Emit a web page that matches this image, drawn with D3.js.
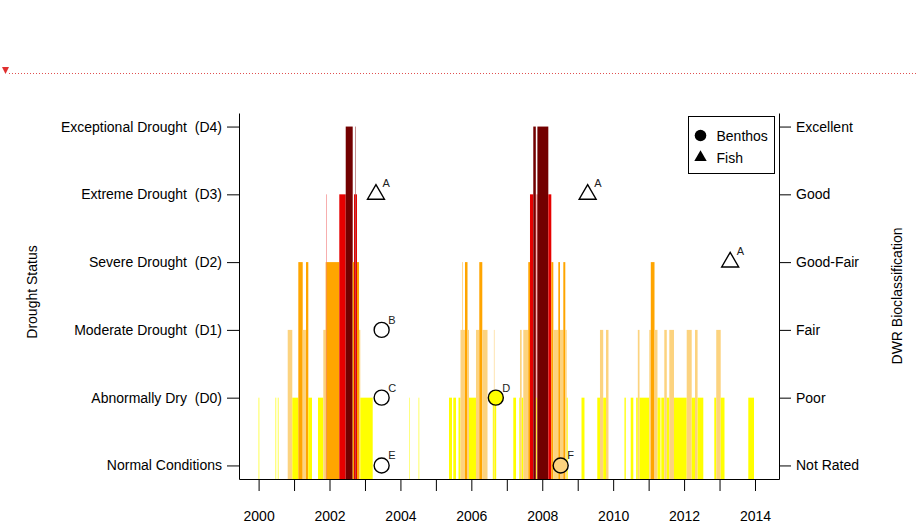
<!DOCTYPE html>
<html>
<head>
<meta charset="utf-8">
<script src="https://cdn.jsdelivr.net/npm/d3@7"></script>
<style>
  html, body { margin: 0; padding: 0; background: #fff; }
  svg { display: block; font-family: "Liberation Sans", Arial, sans-serif; }
</style>
</head>
<body>
<script>
// ---------------- DATA ----------------
const levelNames = ["Normal", "D0", "D1", "D2", "D3", "D4"];
const droughtLabels = ["Normal Conditions", "Abnormally Dry  (D0)", "Moderate Drought  (D1)",
  "Severe Drought  (D2)", "Extreme Drought  (D3)", "Exceptional Drought  (D4)"];
const bioLabels = ["Not Rated", "Poor", "Fair", "Good-Fair", "Good", "Excellent"];
const yearTicks = [2000, 2001, 2002, 2003, 2004, 2005, 2006, 2007, 2008, 2009, 2010, 2011, 2012, 2013, 2014];
const yearLabels = ["2000", "", "2002", "", "2004", "", "2006", "", "2008", "", "2010", "", "2012", "", "2014"];

// Drought periods (decimal years) and status
const segStart = [2000.000, 2000.477, 2000.542, 2000.821, 2000.950, 2001.120, 2001.244, 2001.337, 2001.402,
  2001.675, 2001.825, 2001.892, 2001.915, 2001.924, 2002.276, 2002.457, 2002.654, 2002.691, 2002.733, 2002.745,
  2002.775, 2002.832, 2002.868, 2004.252, 2004.513,
  2005.370, 2005.491, 2005.638, 2005.694, 2005.745, 2005.757, 2005.821, 2005.892, 2005.934, 2006.131, 2006.224,
  2006.309, 2006.605, 2006.636, 2006.653,
  2007.183, 2007.353, 2007.372, 2007.420, 2007.465, 2007.606, 2007.654, 2007.747, 2007.818, 2007.832, 2007.852,
  2007.863, 2008.171, 2008.255, 2008.312, 2008.453, 2008.500, 2008.594, 2008.650, 2008.689,
  2009.107, 2009.552, 2009.628, 2009.719, 2009.798, 2010.319, 2010.494, 2010.649, 2010.695, 2010.743, 2011.019,
  2011.061, 2011.166, 2011.250, 2011.357, 2011.442, 2011.512, 2011.583, 2011.715, 2012.074, 2012.215, 2012.308,
  2012.381, 2012.852, 2012.907, 2013.033, 2013.811];
const segEnd = [2000.019, 2000.496, 2000.561, 2000.950, 2001.120, 2001.244, 2001.337, 2001.402, 2001.506,
  2001.825, 2001.892, 2001.915, 2001.924, 2002.276, 2002.457, 2002.654, 2002.691, 2002.733, 2002.745, 2002.775,
  2002.832, 2002.868, 2003.218, 2004.266, 2004.530,
  2005.455, 2005.567, 2005.694, 2005.745, 2005.757, 2005.821, 2005.892, 2005.934, 2006.131, 2006.224, 2006.309,
  2006.456, 2006.636, 2006.653, 2006.701,
  2007.260, 2007.372, 2007.420, 2007.465, 2007.606, 2007.654, 2007.747, 2007.818, 2007.832, 2007.852, 2007.863,
  2008.171, 2008.255, 2008.312, 2008.453, 2008.500, 2008.594, 2008.650, 2008.689, 2008.718,
  2009.191, 2009.628, 2009.719, 2009.798, 2009.868, 2010.356, 2010.568, 2010.695, 2010.743, 2011.019, 2011.061,
  2011.166, 2011.250, 2011.335, 2011.442, 2011.512, 2011.583, 2011.715, 2012.074, 2012.215, 2012.308, 2012.381,
  2012.542, 2012.907, 2013.033, 2013.140, 2013.972];
const segLevel = ["D0", "D0", "D0", "D1", "D0", "D2", "D1", "D2", "D0",
  "D0", "D1", "D2", "D3", "D2", "D3", "D4", "D2", "D3", "D4", "D3",
  "D2", "D1", "D0", "D0", "D0",
  "D0", "D0", "D0", "D1", "D2", "D1", "D2", "D1", "D0", "D1", "D2",
  "D1", "D0", "D1", "D0",
  "D0", "D0", "D1", "D0", "D1", "D2", "D3", "D4", "D3", "D0", "D3",
  "D4", "D3", "D2", "D1", "D2", "D1", "D2", "D1", "D0",
  "D0", "D0", "D1", "D0", "D1", "D0", "D0", "D0", "D1", "D0", "D1",
  "D2", "D1", "D0", "D0", "D1", "D0", "D1", "D0", "D1", "D0", "D1",
  "D0", "D0", "D1", "D0", "D0"];

// Bioassessment samples
const benthosDate = [2003.47, 2003.47, 2003.47, 2006.69, 2008.52];
const benthosRating = ["Fair", "Poor", "Not Rated", "Poor", "Not Rated"];
const benthosSite = ["B", "C", "E", "D", "F"];
const benthosDrought = [null, null, null, "D0", "D1"];
const fishDate = [2003.31, 2009.28, 2013.30];
const fishRating = ["Good", "Good", "Good-Fair"];
const fishSite = ["A", "A", "A"];

// ---------------- STYLE ----------------
const levelColor = { D0: "#FFFF00", D1: "#FCD37F", D2: "#FFA500", D3: "#E60000", D4: "#730000" };

const W = 916, H = 525;
const svg = d3.select("body").append("svg").attr("width", W).attr("height", H);

// page marker line
svg.append("line").attr("x1", 9).attr("x2", W).attr("y1", 73.5).attr("y2", 73.5)
  .attr("stroke", "#e05050").attr("stroke-width", 1).attr("stroke-dasharray", "1,2");
svg.append("path").attr("d", "M2,67 L9,67 L5.5,74 Z").attr("fill", "#e03030");

const x = d3.scaleLinear().domain([1999.4472, 2014.677]).range([239, 779]);
const y = d3.scaleLinear().domain([-0.2, 5.2]).range([479, 113]);
const lvl = name => levelNames.indexOf(name);
const bio = name => bioLabels.indexOf(name);

// bars
const segs = segStart.map((s, i) => ({ s, e: segEnd[i], l: segLevel[i] }));
svg.append("g").selectAll("rect").data(segs).join("rect")
  .attr("x", d => x(d.s))
  .attr("width", d => Math.max(0.2, x(d.e) - x(d.s)))
  .attr("y", d => y(lvl(d.l)))
  .attr("height", d => y.range()[0] - y(lvl(d.l)))
  .attr("fill", d => levelColor[d.l]);

// axes
const axisFont = g => g.selectAll("text").attr("font-size", 14).attr("fill", "#000")
  .attr("font-family", "Liberation Sans, Arial, sans-serif").style("white-space", "pre");

svg.append("g").attr("transform", "translate(239,0)")
  .call(d3.axisLeft(y).tickValues(d3.range(6)).tickFormat(i => droughtLabels[i])
    .tickSize(12).tickSizeOuter(0).tickPadding(5))
  .call(axisFont)
  .call(g => g.selectAll("path,line").attr("stroke", "#000"));

svg.append("g").attr("transform", "translate(779,0)")
  .call(d3.axisRight(y).tickValues(d3.range(6)).tickFormat(i => bioLabels[i])
    .tickSize(12).tickSizeOuter(0).tickPadding(5))
  .call(axisFont)
  .call(g => g.selectAll("path,line").attr("stroke", "#000"));

svg.append("g").attr("transform", "translate(0,479)")
  .call(d3.axisBottom(x).tickValues(yearTicks).tickFormat((d, i) => yearLabels[i])
    .tickSize(12).tickSizeOuter(0).tickPadding(20))
  .call(axisFont)
  .call(g => g.selectAll("path,line").attr("stroke", "#000"));

// axis titles
svg.append("text").attr("transform", "translate(37,292) rotate(-90)")
  .attr("text-anchor", "middle").attr("font-size", 14).text("Drought Status");
svg.append("text").attr("transform", "translate(902,296) rotate(-90)")
  .attr("text-anchor", "middle").attr("font-size", 14).text("DWR Bioclassification");

// triangle path (R pch 2 style)
function triPath(cx, cy, R) {
  const r = 1.5551 * R, xc = 1.3468 * R, yc = 0.7776 * R;
  return `M${cx},${cy - r} L${cx + xc},${cy + yc} L${cx - xc},${cy + yc} Z`;
}

// benthos circles
const bd = benthosDate.map((d, i) => ({ d, r: benthosRating[i], s: benthosSite[i], f: benthosDrought[i] }));
const gB = svg.append("g");
gB.selectAll("circle").data(bd).join("circle")
  .attr("cx", d => x(d.d)).attr("cy", d => y(bio(d.r))).attr("r", 7.5)
  .attr("fill", d => d.f ? levelColor[d.f] : "none")
  .attr("stroke", "#000").attr("stroke-width", 1.4);
gB.selectAll("text").data(bd).join("text")
  .attr("x", d => x(d.d) + 6.5).attr("y", d => y(bio(d.r)) - 6)
  .attr("font-size", 11).attr("fill", "#222").text(d => d.s);

// fish triangles
const fd = fishDate.map((d, i) => ({ d, r: fishRating[i], s: fishSite[i] }));
const gF = svg.append("g");
gF.selectAll("path").data(fd).join("path")
  .attr("d", d => triPath(x(d.d), y(bio(d.r)), 6.3))
  .attr("fill", "none").attr("stroke", "#000").attr("stroke-width", 1.4);
gF.selectAll("text").data(fd).join("text")
  .attr("x", d => x(d.d) + 6.5).attr("y", d => y(bio(d.r)) - 7)
  .attr("font-size", 11).attr("fill", "#222").text(d => d.s);

// legend
const lg = svg.append("g");
lg.append("rect").attr("x", 688.5).attr("y", 116.5).attr("width", 86).attr("height", 57)
  .attr("fill", "#fff").attr("stroke", "#000").attr("stroke-width", 1);
lg.append("circle").attr("cx", 700.5).attr("cy", 135.5).attr("r", 5.8).attr("fill", "#000");
lg.append("path").attr("d", triPath(700.5, 157.5, 4.6)).attr("fill", "#000");
lg.append("text").attr("x", 716.5).attr("y", 140.5).attr("font-size", 14).text("Benthos");
lg.append("text").attr("x", 716.5).attr("y", 162.5).attr("font-size", 14).text("Fish");
</script>
</body>
</html>
